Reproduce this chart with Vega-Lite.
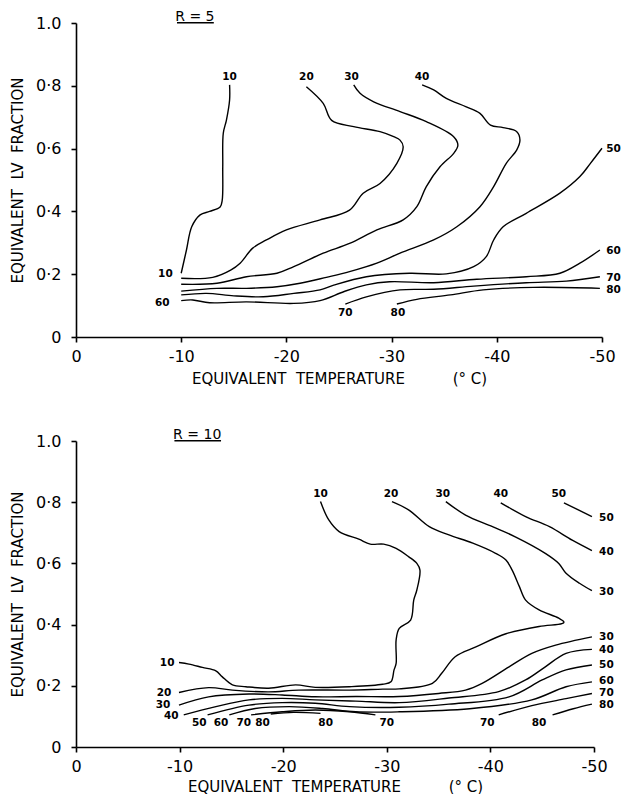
{
  "$schema": "https://vega.github.io/schema/vega-lite/v6.json",
  "padding": {"left": 10, "top": 10, "right": 5, "bottom": 0},
  "spacing": 41,
  "config": {
    "view": {"stroke": null},
    "font": "DejaVu Sans",
    "axis": {"domainColor": "black", "domainWidth": 1.6, "tickColor": "black", "tickWidth": 1.6, "tickSize": 5, "labelColor": "black", "titleColor": "black", "labelFont": "DejaVu Sans", "titleFont": "DejaVu Sans", "labelFontSize": 16, "titleFontSize": 15, "titleFontWeight": "normal", "grid": false, "labelFlush": false}
  },
  "datasets": {
    "top": [
      {"c":"10","i":0,"t":-10.0,"f":0.203},{"c":"10","i":1,"t":-10.5,"f":0.277},{"c":"10","i":2,"t":-11.0,"f":0.351},{"c":"10","i":3,"t":-11.8,"f":0.389},{"c":"10","i":4,"t":-12.7,"f":0.400},{"c":"10","i":5,"t":-13.7,"f":0.414},{"c":"10","i":6,"t":-13.9,"f":0.436},{"c":"10","i":7,"t":-13.95,"f":0.542},{"c":"10","i":8,"t":-14.0,"f":0.649},{"c":"10","i":9,"t":-14.3,"f":0.691},{"c":"10","i":10,"t":-14.6,"f":0.755},{"c":"10","i":11,"t":-14.6,"f":0.803},
      {"c":"20","i":0,"t":-10,"f":0.187},{"c":"20","i":1,"t":-13.0,"f":0.190},{"c":"20","i":2,"t":-14.7,"f":0.213},{"c":"20","i":3,"t":-15.6,"f":0.235},{"c":"20","i":4,"t":-16.8,"f":0.283},{"c":"20","i":5,"t":-18.1,"f":0.309},{"c":"20","i":6,"t":-20.0,"f":0.341},{"c":"20","i":7,"t":-23.2,"f":0.373},{"c":"20","i":8,"t":-26.0,"f":0.404},{"c":"20","i":9,"t":-27.3,"f":0.458},{"c":"20","i":10,"t":-28.9,"f":0.489},{"c":"20","i":11,"t":-30.5,"f":0.553},{"c":"20","i":12,"t":-31.1,"f":0.606},{"c":"20","i":13,"t":-30.8,"f":0.627},{"c":"20","i":14,"t":-30.2,"f":0.638},{"c":"20","i":15,"t":-28.9,"f":0.654},{"c":"20","i":16,"t":-26.4,"f":0.670},{"c":"20","i":17,"t":-24.3,"f":0.690},{"c":"20","i":18,"t":-23.5,"f":0.744},{"c":"20","i":19,"t":-21.9,"f":0.797},
      {"c":"30","i":0,"t":-10,"f":0.168},{"c":"30","i":1,"t":-13.4,"f":0.171},{"c":"30","i":2,"t":-16.2,"f":0.192},{"c":"30","i":3,"t":-19.1,"f":0.203},{"c":"30","i":4,"t":-20.7,"f":0.224},{"c":"30","i":5,"t":-23.5,"f":0.267},{"c":"30","i":6,"t":-26.0,"f":0.298},{"c":"30","i":7,"t":-28.6,"f":0.341},{"c":"30","i":8,"t":-31.1,"f":0.373},{"c":"30","i":9,"t":-32.4,"f":0.415},{"c":"30","i":10,"t":-33.3,"f":0.479},{"c":"30","i":11,"t":-34.6,"f":0.542},{"c":"30","i":12,"t":-35.9,"f":0.585},{"c":"30","i":13,"t":-36.3,"f":0.611},{"c":"30","i":14,"t":-35.9,"f":0.638},{"c":"30","i":15,"t":-33.3,"f":0.686},{"c":"30","i":16,"t":-30.8,"f":0.718},{"c":"30","i":17,"t":-28.3,"f":0.749},{"c":"30","i":18,"t":-27.0,"f":0.776},{"c":"30","i":19,"t":-26.4,"f":0.803},
      {"c":"40","i":0,"t":-10,"f":0.146},{"c":"40","i":1,"t":-13.4,"f":0.155},{"c":"40","i":2,"t":-16.2,"f":0.155},{"c":"40","i":3,"t":-19.1,"f":0.160},{"c":"40","i":4,"t":-21.3,"f":0.171},{"c":"40","i":5,"t":-23.8,"f":0.190},{"c":"40","i":6,"t":-26.0,"f":0.208},{"c":"40","i":7,"t":-28.6,"f":0.235},{"c":"40","i":8,"t":-30.8,"f":0.267},{"c":"40","i":9,"t":-34.0,"f":0.309},{"c":"40","i":10,"t":-36.2,"f":0.351},{"c":"40","i":11,"t":-38.4,"f":0.415},{"c":"40","i":12,"t":-39.7,"f":0.479},{"c":"40","i":13,"t":-40.9,"f":0.553},{"c":"40","i":14,"t":-41.9,"f":0.596},{"c":"40","i":15,"t":-42.2,"f":0.627},{"c":"40","i":16,"t":-41.9,"f":0.654},{"c":"40","i":17,"t":-40.6,"f":0.667},{"c":"40","i":18,"t":-39.4,"f":0.675},{"c":"40","i":19,"t":-38.4,"f":0.712},{"c":"40","i":20,"t":-37.1,"f":0.733},{"c":"40","i":21,"t":-35.2,"f":0.760},{"c":"40","i":22,"t":-34.0,"f":0.787},{"c":"40","i":23,"t":-32.9,"f":0.803},
      {"c":"50","i":0,"t":-10,"f":0.134},{"c":"50","i":1,"t":-12.4,"f":0.139},{"c":"50","i":2,"t":-15.0,"f":0.131},{"c":"50","i":3,"t":-17.8,"f":0.128},{"c":"50","i":4,"t":-20.7,"f":0.139},{"c":"50","i":5,"t":-23.2,"f":0.150},{"c":"50","i":6,"t":-24.5,"f":0.165},{"c":"50","i":7,"t":-27.6,"f":0.192},{"c":"50","i":8,"t":-31.7,"f":0.203},{"c":"50","i":9,"t":-35.2,"f":0.201},{"c":"50","i":10,"t":-37.8,"f":0.224},{"c":"50","i":11,"t":-39.0,"f":0.256},{"c":"50","i":12,"t":-39.7,"f":0.309},{"c":"50","i":13,"t":-40.6,"f":0.351},{"c":"50","i":14,"t":-42.8,"f":0.394},{"c":"50","i":15,"t":-46.0,"f":0.458},{"c":"50","i":16,"t":-47.9,"f":0.511},{"c":"50","i":17,"t":-48.9,"f":0.553},{"c":"50","i":18,"t":-50.0,"f":0.601},
      {"c":"60","i":0,"t":-10,"f":0.116},{"c":"60","i":1,"t":-11.1,"f":0.118},{"c":"60","i":2,"t":-12.7,"f":0.109},{"c":"60","i":3,"t":-16.2,"f":0.112},{"c":"60","i":4,"t":-20.7,"f":0.107},{"c":"60","i":5,"t":-23.2,"f":0.116},{"c":"60","i":6,"t":-25.5,"f":0.145},{"c":"60","i":7,"t":-27.6,"f":0.166},{"c":"60","i":8,"t":-29.8,"f":0.176},{"c":"60","i":9,"t":-34.0,"f":0.173},{"c":"60","i":10,"t":-38.1,"f":0.184},{"c":"60","i":11,"t":-42.8,"f":0.192},{"c":"60","i":12,"t":-46.0,"f":0.203},{"c":"60","i":13,"t":-47.9,"f":0.235},{"c":"60","i":14,"t":-49.8,"f":0.277},
      {"c":"70","i":0,"t":-25.6,"f":0.105},{"c":"70","i":1,"t":-27.6,"f":0.128},{"c":"70","i":2,"t":-30.8,"f":0.150},{"c":"70","i":3,"t":-34.0,"f":0.152},{"c":"70","i":4,"t":-37.8,"f":0.162},{"c":"70","i":5,"t":-42.8,"f":0.173},{"c":"70","i":6,"t":-46.6,"f":0.178},{"c":"70","i":7,"t":-49.8,"f":0.192},
      {"c":"80","i":0,"t":-30.5,"f":0.105},{"c":"80","i":1,"t":-32.4,"f":0.120},{"c":"80","i":2,"t":-35.6,"f":0.134},{"c":"80","i":3,"t":-38.7,"f":0.150},{"c":"80","i":4,"t":-43.5,"f":0.158},{"c":"80","i":5,"t":-49.8,"f":0.155}
    ],
    "toplab": [
      {"t":-14.6,"f":0.827,"s":"10"},{"t":-21.9,"f":0.827,"s":"20"},{"t":-26.2,"f":0.827,"s":"30"},{"t":-32.9,"f":0.827,"s":"40"},
      {"t":-51.1,"f":0.600,"s":"50"},{"t":-51.1,"f":0.275,"s":"60"},{"t":-51.1,"f":0.187,"s":"70"},{"t":-51.1,"f":0.150,"s":"80"},
      {"t":-8.5,"f":0.200,"s":"10"},{"t":-8.2,"f":0.109,"s":"60"},{"t":-25.6,"f":0.075,"s":"70"},{"t":-30.6,"f":0.075,"s":"80"}
    ],
    "toptitle": [{"t":-11.3,"f":1.019,"s":"R = 5"}],
    "topline": [{"t":-9.6,"t2":-13.1,"f":1.001}],
    "bot": [
      {"c":"10","i":0,"t":-9.94,"f":0.276},{"c":"10","i":1,"t":-10.9,"f":0.271},{"c":"10","i":2,"t":-12.2,"f":0.260},{"c":"10","i":3,"t":-13.5,"f":0.249},{"c":"10","i":4,"t":-14.1,"f":0.230},{"c":"10","i":5,"t":-15.1,"f":0.203},{"c":"10","i":6,"t":-16.4,"f":0.197},{"c":"10","i":7,"t":-18.6,"f":0.192},{"c":"10","i":8,"t":-21.2,"f":0.203},{"c":"10","i":9,"t":-23.1,"f":0.195},{"c":"10","i":10,"t":-26.4,"f":0.197},{"c":"10","i":11,"t":-29.6,"f":0.205},{"c":"10","i":12,"t":-30.4,"f":0.213},{"c":"10","i":13,"t":-30.7,"f":0.252},{"c":"10","i":14,"t":-30.9,"f":0.273},{"c":"10","i":15,"t":-30.9,"f":0.350},{"c":"10","i":16,"t":-31.2,"f":0.388},{"c":"10","i":17,"t":-32.3,"f":0.415},{"c":"10","i":18,"t":-32.6,"f":0.480},{"c":"10","i":19,"t":-32.9,"f":0.513},{"c":"10","i":20,"t":-33.2,"f":0.578},{"c":"10","i":21,"t":-32.9,"f":0.600},{"c":"10","i":22,"t":-32.1,"f":0.622},{"c":"10","i":23,"t":-30.9,"f":0.649},{"c":"10","i":24,"t":-29.7,"f":0.663},{"c":"10","i":25,"t":-28.4,"f":0.663},{"c":"10","i":26,"t":-27.3,"f":0.679},{"c":"10","i":27,"t":-25.4,"f":0.704},{"c":"10","i":28,"t":-24.4,"f":0.742},{"c":"10","i":29,"t":-23.6,"f":0.802},
      {"c":"20","i":0,"t":-9.94,"f":0.178},{"c":"20","i":1,"t":-12.8,"f":0.194},{"c":"20","i":2,"t":-15.1,"f":0.186},{"c":"20","i":3,"t":-18.6,"f":0.180},{"c":"20","i":4,"t":-21.5,"f":0.186},{"c":"20","i":5,"t":-26.4,"f":0.186},{"c":"20","i":6,"t":-29.6,"f":0.189},{"c":"20","i":7,"t":-31.2,"f":0.190},{"c":"20","i":8,"t":-34.4,"f":0.208},{"c":"20","i":9,"t":-35.3,"f":0.241},{"c":"20","i":10,"t":-36.6,"f":0.295},{"c":"20","i":11,"t":-38.6,"f":0.327},{"c":"20","i":12,"t":-41.5,"f":0.370},{"c":"20","i":13,"t":-44.7,"f":0.394},{"c":"20","i":14,"t":-46.9,"f":0.403},{"c":"20","i":15,"t":-47.1,"f":0.408},{"c":"20","i":16,"t":-46.6,"f":0.421},{"c":"20","i":17,"t":-44.7,"f":0.448},{"c":"20","i":18,"t":-43.4,"f":0.480},{"c":"20","i":19,"t":-42.8,"f":0.524},{"c":"20","i":20,"t":-42.1,"f":0.578},{"c":"20","i":21,"t":-41.5,"f":0.611},{"c":"20","i":22,"t":-40.5,"f":0.633},{"c":"20","i":23,"t":-38.3,"f":0.666},{"c":"20","i":24,"t":-36.0,"f":0.693},{"c":"20","i":25,"t":-34.1,"f":0.720},{"c":"20","i":26,"t":-32.1,"f":0.775},{"c":"20","i":27,"t":-30.5,"f":0.802},
      {"c":"30a","i":0,"t":-9.94,"f":0.137},{"c":"30a","i":1,"t":-12.8,"f":0.164},{"c":"30a","i":2,"t":-16.7,"f":0.173},{"c":"30a","i":3,"t":-19.9,"f":0.170},{"c":"30a","i":4,"t":-23.1,"f":0.164},{"c":"30a","i":5,"t":-27.0,"f":0.165},{"c":"30a","i":6,"t":-31.2,"f":0.165},{"c":"30a","i":7,"t":-35.0,"f":0.175},{"c":"30a","i":8,"t":-37.6,"f":0.186},{"c":"30a","i":9,"t":-39.2,"f":0.208},{"c":"30a","i":10,"t":-41.8,"f":0.262},{"c":"30a","i":11,"t":-44.0,"f":0.306},{"c":"30a","i":12,"t":-46.3,"f":0.333},{"c":"30a","i":13,"t":-49.8,"f":0.360},
      {"c":"40a","i":0,"t":-10.4,"f":0.105},{"c":"40a","i":1,"t":-13.5,"f":0.132},{"c":"40a","i":2,"t":-16.7,"f":0.154},{"c":"40a","i":3,"t":-19.9,"f":0.159},{"c":"40a","i":4,"t":-23.1,"f":0.154},{"c":"40a","i":5,"t":-27.0,"f":0.150},{"c":"40a","i":6,"t":-31.2,"f":0.145},{"c":"40a","i":7,"t":-36.0,"f":0.160},{"c":"40a","i":8,"t":-40.8,"f":0.181},{"c":"40a","i":9,"t":-43.4,"f":0.219},{"c":"40a","i":10,"t":-45.3,"f":0.262},{"c":"40a","i":11,"t":-47.3,"f":0.306},{"c":"40a","i":12,"t":-49.8,"f":0.319},
      {"c":"50a","i":0,"t":-12.7,"f":0.105},{"c":"50a","i":1,"t":-16.7,"f":0.137},{"c":"50a","i":2,"t":-19.9,"f":0.145},{"c":"50a","i":3,"t":-23.1,"f":0.143},{"c":"50a","i":4,"t":-26.4,"f":0.132},{"c":"50a","i":5,"t":-31.2,"f":0.130},{"c":"50a","i":6,"t":-36.0,"f":0.140},{"c":"50a","i":7,"t":-41.8,"f":0.164},{"c":"50a","i":8,"t":-45.0,"f":0.219},{"c":"50a","i":9,"t":-47.3,"f":0.252},{"c":"50a","i":10,"t":-49.8,"f":0.268},
      {"c":"60a","i":0,"t":-14.8,"f":0.105},{"c":"60a","i":1,"t":-17.3,"f":0.126},{"c":"60a","i":2,"t":-20.6,"f":0.132},{"c":"60a","i":3,"t":-23.8,"f":0.126},{"c":"60a","i":4,"t":-27.0,"f":0.115},{"c":"60a","i":5,"t":-31.2,"f":0.115},{"c":"60a","i":6,"t":-38.0,"f":0.125},{"c":"60a","i":7,"t":-44.0,"f":0.154},{"c":"60a","i":8,"t":-47.3,"f":0.197},{"c":"60a","i":9,"t":-49.8,"f":0.213},
      {"c":"70a","i":0,"t":-16.9,"f":0.105},{"c":"70a","i":1,"t":-19.9,"f":0.115},{"c":"70a","i":2,"t":-23.1,"f":0.121},{"c":"70a","i":3,"t":-26.4,"f":0.115},{"c":"70a","i":4,"t":-28.9,"f":0.105},
      {"c":"80a","i":0,"t":-18.8,"f":0.108},{"c":"80a","i":1,"t":-21.0,"f":0.113},{"c":"80a","i":2,"t":-23.6,"f":0.110},
      {"c":"70b","i":0,"t":-40.8,"f":0.105},{"c":"70b","i":1,"t":-44.0,"f":0.135},{"c":"70b","i":2,"t":-47.3,"f":0.158},{"c":"70b","i":3,"t":-49.8,"f":0.175},
      {"c":"80b","i":0,"t":-46.0,"f":0.105},{"c":"80b","i":1,"t":-48.0,"f":0.125},{"c":"80b","i":2,"t":-49.8,"f":0.140},
      {"c":"30b","i":0,"t":-35.7,"f":0.802},{"c":"30b","i":1,"t":-37.6,"f":0.758},{"c":"30b","i":2,"t":-40.2,"f":0.720},{"c":"30b","i":3,"t":-42.4,"f":0.687},{"c":"30b","i":4,"t":-45.3,"f":0.633},{"c":"30b","i":5,"t":-46.6,"f":0.600},{"c":"30b","i":6,"t":-47.3,"f":0.568},{"c":"30b","i":7,"t":-48.6,"f":0.535},{"c":"30b","i":8,"t":-49.8,"f":0.511},
      {"c":"40b","i":0,"t":-41.0,"f":0.798},{"c":"40b","i":1,"t":-43.4,"f":0.753},{"c":"40b","i":2,"t":-45.7,"f":0.720},{"c":"40b","i":3,"t":-47.9,"f":0.676},{"c":"40b","i":4,"t":-49.8,"f":0.642},
      {"c":"50b","i":0,"t":-47.1,"f":0.798},{"c":"50b","i":1,"t":-49.8,"f":0.753}
    ],
    "botlab": [
      {"t":-23.6,"f":0.826,"s":"10"},{"t":-30.4,"f":0.826,"s":"20"},{"t":-35.4,"f":0.826,"s":"30"},{"t":-41.0,"f":0.826,"s":"40"},{"t":-46.6,"f":0.826,"s":"50"},
      {"t":-51.2,"f":0.747,"s":"50"},{"t":-51.2,"f":0.638,"s":"40"},{"t":-51.2,"f":0.508,"s":"30"},{"t":-51.2,"f":0.358,"s":"30"},{"t":-51.2,"f":0.317,"s":"40"},{"t":-51.2,"f":0.268,"s":"50"},{"t":-51.2,"f":0.216,"s":"60"},{"t":-51.2,"f":0.175,"s":"70"},{"t":-51.2,"f":0.137,"s":"80"},
      {"t":-8.8,"f":0.274,"s":"10"},{"t":-8.5,"f":0.178,"s":"20"},{"t":-8.4,"f":0.136,"s":"30"},{"t":-9.2,"f":0.101,"s":"40"},
      {"t":-11.9,"f":0.077,"s":"50"},{"t":-14.0,"f":0.077,"s":"60"},{"t":-16.2,"f":0.077,"s":"70"},{"t":-18.0,"f":0.077,"s":"80"},{"t":-24.1,"f":0.077,"s":"80"},{"t":-30.0,"f":0.077,"s":"70"},{"t":-39.7,"f":0.077,"s":"70"},{"t":-44.7,"f":0.077,"s":"80"}
    ],
    "bottitle": [{"t":-11.7,"f":1.02,"s":"R = 10"}],
    "botline": [{"t":-9.5,"t2":-14.0,"f":1.001}]
  },
  "vconcat": [
    {
      "width": 526, "height": 314,
      "encoding": {
        "x": {"field": "t", "type": "quantitative", "scale": {"domain": [0, -50], "nice": false, "zero": false},
              "axis": {"values": [0, -10, -20, -30, -40, -50], "labelExpr": "datum.value == 0 ? '0' : '-' + abs(datum.value)", "labelPadding": 6, "titlePadding": 7,
                       "title": "EQUIVALENT\u00a0\u00a0TEMPERATURE\u00a0\u00a0\u00a0\u00a0\u00a0\u00a0\u00a0\u00a0\u00a0\u00a0(°\u00a0C)"}},
        "y": {"field": "f", "type": "quantitative", "scale": {"domain": [0, 1], "nice": false, "zero": false},
              "axis": {"values": [0, 0.2, 0.4, 0.6, 0.8, 1], "labelExpr": "datum.value == 0 ? '0' : datum.value == 1 ? '1.0' : replace(format(datum.value, '.1f'), '.', '·')", "labelPadding": 10, "titlePadding": 10, "title": "EQUIVALENT\u00a0\u00a0LV\u00a0\u00a0FRACTION"}}
      },
      "layer": [
        {"data": {"name": "top"}, "mark": {"type": "line", "color": "black", "strokeWidth": 1.4, "interpolate": "catmull-rom"},
         "encoding": {"detail": {"field": "c"}, "order": {"field": "i", "type": "quantitative"}}},
        {"data": {"name": "toplab"}, "mark": {"type": "text", "fontSize": 10.5, "fontWeight": "bold", "color": "black"}, "encoding": {"text": {"field": "s"}}},
        {"data": {"name": "toptitle"}, "mark": {"type": "text", "fontSize": 14, "color": "black"}, "encoding": {"text": {"field": "s"}}},
        {"data": {"name": "topline"}, "mark": {"type": "rule", "color": "black", "strokeWidth": 1.4}, "encoding": {"x2": {"field": "t2"}}}
      ]
    },
    {
      "width": 518, "height": 306,
      "encoding": {
        "x": {"field": "t", "type": "quantitative", "scale": {"domain": [0, -50], "nice": false, "zero": false},
              "axis": {"values": [0, -10, -20, -30, -40, -50], "labelExpr": "datum.value == 0 ? '0' : '-' + abs(datum.value)", "labelPadding": 6, "titlePadding": 5,
                       "title": "EQUIVALENT\u00a0\u00a0TEMPERATURE\u00a0\u00a0\u00a0\u00a0\u00a0\u00a0\u00a0\u00a0\u00a0\u00a0(°\u00a0C)"}},
        "y": {"field": "f", "type": "quantitative", "scale": {"domain": [0, 1], "nice": false, "zero": false},
              "axis": {"values": [0, 0.2, 0.4, 0.6, 0.8, 1], "labelExpr": "datum.value == 0 ? '0' : datum.value == 1 ? '1.0' : replace(format(datum.value, '.1f'), '.', '·')", "labelPadding": 10, "titlePadding": 10, "title": "EQUIVALENT\u00a0\u00a0LV\u00a0\u00a0FRACTION"}}
      },
      "layer": [
        {"data": {"name": "bot"}, "mark": {"type": "line", "color": "black", "strokeWidth": 1.4, "interpolate": "catmull-rom"},
         "encoding": {"detail": {"field": "c"}, "order": {"field": "i", "type": "quantitative"}}},
        {"data": {"name": "botlab"}, "mark": {"type": "text", "fontSize": 10.5, "fontWeight": "bold", "color": "black"}, "encoding": {"text": {"field": "s"}}},
        {"data": {"name": "bottitle"}, "mark": {"type": "text", "fontSize": 14, "color": "black"}, "encoding": {"text": {"field": "s"}}},
        {"data": {"name": "botline"}, "mark": {"type": "rule", "color": "black", "strokeWidth": 1.4}, "encoding": {"x2": {"field": "t2"}}}
      ]
    }
  ]
}
